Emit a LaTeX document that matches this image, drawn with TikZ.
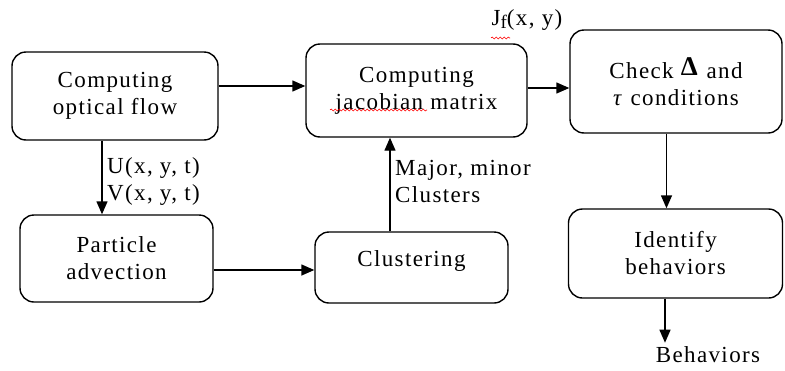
\documentclass[tikz,border=0pt]{standalone}
\usepackage{fontspec}
\setmainfont[LetterSpace=6]{Liberation Serif}
\usetikzlibrary{arrows.meta,decorations.pathmorphing}

\begin{document}
\begin{tikzpicture}[x=1pt,y=-1pt,
  every node/.style={font=\fontsize{23}{27}\selectfont},
  stage/.style={draw, rounded corners=14pt, line width=1.4pt, align=center, inner sep=0pt},
  flowarr/.style={-{Triangle[length=13pt,width=11pt]}, line width=1.4pt},
  note/.style={align=left, inner sep=0pt},
  squiggle/.style={red, line width=0.6pt, decorate, decoration={snake, amplitude=1pt, segment length=4pt}}]
\useasboundingbox (0,0) rectangle (785,370);
% stages
\node[stage, minimum width=206pt, minimum height=88pt] (flow) at (115,96) {Computing\\optical flow};
\node[stage, minimum width=221pt, minimum height=93pt] (jacob) at (416.5,90.5) {Computing\\jacobian matrix};
\node[stage, minimum width=212pt, minimum height=103pt] (check) at (676,81.5) {Check \raisebox{3pt}{\textbf{\fontsize{27}{27}\selectfont Δ}} and\\\textit{τ} conditions};
\node[stage, minimum width=193pt, minimum height=87pt] (particle) at (116.5,258.5) {Particle\\advection};
\node[stage, minimum width=193pt, minimum height=71pt] (cluster) at (411.5,267.5) {\raisebox{18pt}{Clustering}};
\node[stage, minimum width=214pt, minimum height=89pt] (ident) at (675.5,253.5) {Identify\\behaviors};
\node[note, inner sep=4pt] (beh) at (708,355) {Behaviors};
% labels
\node[note, anchor=west] (uv) at (107,181) {U(x, y, t)\\V(x, y, t)};
\node[note, anchor=west] (major) at (395,181) {Major, minor\\Clusters};
\node[note] (jf) at (527,20) {J\raisebox{-3pt}{\fontsize{19}{19}\selectfont f}(x, y)};
\draw[squiggle] (491,38) -- (510,38);
\draw[squiggle] (330,110) -- (427,110);
% arrows
\draw[flowarr] ([yshift=10pt]flow.east) -- ([yshift=10pt]flow.east -| jacob.west);
\draw[flowarr] ([xshift=-13pt]flow.south) -- ([xshift=-13pt]flow.south |- particle.north);
\draw[flowarr] ([yshift=-11.5pt]particle.east) -- ([yshift=-11.5pt]particle.east -| cluster.west);
\draw[flowarr] ([xshift=-21.5pt]cluster.north) -- ([xshift=-21.5pt]cluster.north |- jacob.south);
\draw[flowarr] ([yshift=2.5pt]jacob.east) -- ([yshift=2.5pt]jacob.east -| check.west);
\draw[flowarr] ([xshift=-9.5pt]check.south) -- ([xshift=-9.5pt]check.south |- ident.north);
\draw[flowarr] ([xshift=-10.5pt]ident.south) -- ([xshift=-10.5pt]ident.south |- beh.north);
\end{tikzpicture}
\end{document}
